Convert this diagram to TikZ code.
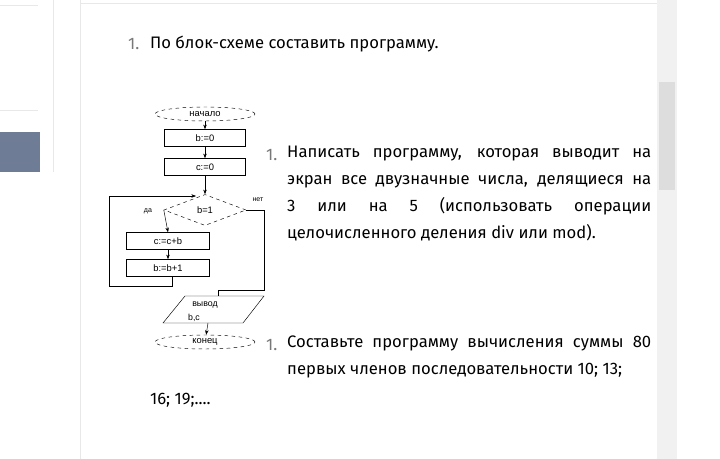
\documentclass[tikz,border=0pt]{standalone}
\usepackage{fontspec}
\setmainfont{Fira Sans}
\newfontfamily\chartfont{Liberation Sans}
\usetikzlibrary{shapes.geometric,arrows.meta}
\definecolor{pagegray}{RGB}{232,232,232}
\definecolor{slate}{RGB}{110,124,150}
\definecolor{numgray}{RGB}{120,120,120}
\begin{document}
\begin{tikzpicture}[x=0.03cm, y=-0.03cm, >={Stealth[length=4pt]}]

        \tikzstyle{block}=[draw, minimum width=81*0.03cm, minimum height=17*0.03cm, inner sep=0pt, font=\chartfont\fontsize{8}{8}\selectfont]
        \tikzstyle{term}=[ellipse, draw, dashed, minimum width=100*0.03cm, minimum height=14*0.03cm, inner sep=0pt, font=\chartfont\fontsize{8}{8}\selectfont]
        \tikzstyle{lbl}=[font=\chartfont\fontsize{6}{7}\selectfont]
        \tikzstyle{para}=[text width=364*0.03cm, align=justify, anchor=north west, inner sep=0pt, font=\fontsize{14.2}{23}\selectfont]

        % page frame
        \fill[white] (0,0) rectangle (720,459);
        \useasboundingbox (0,0) rectangle (720,459);
        \draw[pagegray] (0,5) -- (38,5);
        \draw[pagegray] (0,110) -- (38,110);
        \fill[slate] (0,132) rectangle (40,172);
        \draw[pagegray] (53,0) -- (53,172);
        \draw[pagegray] (80,0) -- (80,459);
        \draw[pagegray] (80,3) -- (677,3);
        \fill[pagegray!60] (657,0) rectangle (677,459);
        \fill[pagegray!150] (659,82) rectangle (675,190);

        % task text
        \node[anchor=west, text=numgray, font=\fontsize{14.2}{15}\selectfont] (n0) at (124,44) {1.};
        \node[anchor=west, font=\fontsize{14.2}{15}\selectfont] (t0) at (146,44) {По блок-схеме составить программу.};
        \node[anchor=west, text=numgray, font=\fontsize{14.2}{15}\selectfont] (n1) at (262,155) {1.};
        \node[para] (t1) at (287,146) {Написать программу, которая выводит на\linebreak экран все двузначные числа, делящиеся на\linebreak 3 или на 5 (использовать операции\linebreak целочисленного деления div или mod).};
        \node[anchor=west, text=numgray, font=\fontsize{14.2}{15}\selectfont] (n2) at (262,345) {1.};
        \node[para] (t2) at (287,336) {Составьте программу вычисления суммы 80\linebreak первых членов последовательности 10; 13;};
        \node[anchor=west, font=\fontsize{14.2}{15}\selectfont] (t3) at (146,400) {16; 19;....};

        % flowchart
        \node[term] (start) at (205,114) {начало};
        \node[block] (b0) at (205,138) {b:=0};
        \node[block] (c0) at (205,167) {c:=0};
        \node[diamond, draw, dashed, aspect=2.6, minimum width=82*0.03cm, minimum height=31*0.03cm, inner sep=0pt, font=\chartfont\fontsize{8}{8}\selectfont] (cond) at (205,210) {b=1};
        \node[block, minimum width=83*0.03cm] (add) at (168,241) {c:=c+b};
        \node[block, minimum width=83*0.03cm] (inc) at (168,268) {b:=b+1};
        \draw (185,296) -- (264,296) -- (243,323) -- (163,323) -- cycle;
        \coordinate (outtop) at (218,296);
        \node[lbl, font=\chartfont\fontsize{7.5}{8}\selectfont] (outa) at (205,305) {вывод};
        \node[lbl, font=\chartfont\fontsize{7.5}{8}\selectfont] (outb) at (194,318) {b,c};
        \coordinate (outbot) at (208,323);
        \node[term] (stop) at (205,342) {конец};
        \node[lbl] (yes) at (148,211) {да};
        \node[lbl] (no) at (258,200) {нет};

        \coordinate (loopa) at (172,286);
        \coordinate (loopb) at (109,286);
        \coordinate (loopc) at (109,196);
        \coordinate (loopd) at (196,196);
        \coordinate (noa) at (264,210);
        \coordinate (nob) at (264,290);
        \coordinate (noc) at (218,290);

        \draw[->] (start) -- (b0);
        \draw[->] (b0) -- (c0);
        \draw[->] (c0) -- (cond);
        \draw[->] (cond.west) -- (add.north);
        \draw[->] (add) -- (inc);
        \draw[->] (inc.south -| loopa) -- (loopa) -- (loopb) -- (loopc) -- (loopd);
        \draw (cond.east) -- (noa) -- (nob) -- (noc) -- (outtop);
        \draw[->] (outbot) -- (stop);

\end{tikzpicture}
\end{document}
